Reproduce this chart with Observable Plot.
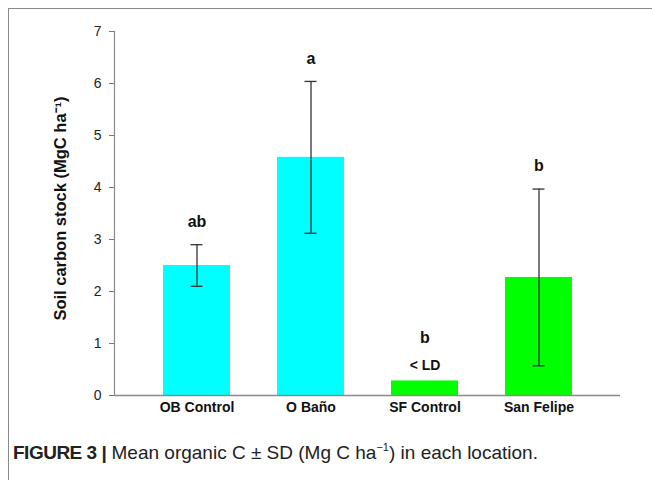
<!DOCTYPE html>
<html><head><meta charset="utf-8">
<script src="https://cdn.jsdelivr.net/npm/d3@7"></script>
<script src="https://cdn.jsdelivr.net/npm/@observablehq/plot@0.6"></script>
<style>
body{margin:0;background:#fff;font-family:"Liberation Sans",Arial,sans-serif;}
#wrap{position:relative;width:652px;height:480px;overflow:hidden;background:#fff}
#frame{position:absolute;left:8px;top:8px;right:-2px;bottom:-2px;border-top:1.5px solid #8a8a8a;border-left:1.5px solid #8a8a8a;pointer-events:none}
#chart{position:absolute;left:0;top:0}
#caption{position:absolute;left:13px;top:442px;font-family:"Liberation Sans Narrow","Liberation Sans",sans-serif;font-size:19px;color:#222;white-space:nowrap}
#caption b{letter-spacing:-0.5px}
#caption sup{font-size:11px;vertical-align:8px;line-height:0}
</style></head>
<body><div id="wrap"><div id="chart"></div><div id="frame"></div><div id="caption"><b>FIGURE 3 |</b> Mean organic C ± SD (Mg C ha<sup>−1</sup>) in each location.</div></div>
<script>
const sites = ["OB Control", "O Baño", "SF Control", "San Felipe"];
const means = [2.5, 4.58, 0.28, 2.27];
const sds = [0.4, 1.46, null, 1.7];
const letters = ["ab", "a", "b", "b"];
const notes = ["", "", "< LD", ""];
const barColors = ["#00ffff", "#00ffff", "#00ff00", "#00ff00"];
const yTicks = [0, 1, 2, 3, 4, 5, 6, 7];
const yLabel = "Soil carbon stock (MgC ha⁻¹)";

const data = sites.map((s, i) => ({
  site: s, mean: means[i], sd: sds[i],
  lo: sds[i] == null ? null : means[i] - sds[i],
  hi: sds[i] == null ? null : means[i] + sds[i],
  letter: letters[i], note: notes[i], color: barColors[i]
}));
const errs = data.filter(d => d.sd != null);
const noErr = data.filter(d => d.sd == null);

const plot = Plot.plot({
  width: 652, height: 420,
  marginLeft: 114, marginRight: 32, marginTop: 31, marginBottom: 25,
  style: {fontFamily: "'Liberation Sans', Arial, sans-serif", background: "transparent", color: "#222"},
  x: {domain: sites, padding: 0.415, label: null},
  y: {domain: [0, 7], label: null},
  marks: [
    Plot.barY(data, {x: "site", y: "mean", fill: "color"}),
    Plot.ruleY([0], {stroke: "#8a8a8a", strokeWidth: 1.5}),
    Plot.frame({anchor: "left", stroke: "#8a8a8a", strokeWidth: 1.2}),
    Plot.axisY({ticks: yTicks, tickFormat: d3.format("d"), tickSize: 5, tickPadding: 8, stroke: "#777", fontSize: 14, label: null}),
    Plot.axisX({tickSize: 0, tickPadding: 7, fontSize: 14, fontWeight: "bold", label: null, fill: "#111"}),
    Plot.text([yLabel], {frameAnchor: "left", textAnchor: "middle", rotate: -90, dx: -54, dy: -5, fontSize: 16.5, fontWeight: "bold", fill: "#111"}),
    Plot.ruleX(errs, {x: "site", y1: "lo", y2: "hi", stroke: "#333", strokeWidth: 1.3}),
    Plot.tickY(errs, {x: "site", y: "lo", insetLeft: 27.5, insetRight: 27.5, stroke: "#333", strokeWidth: 1.3}),
    Plot.tickY(errs, {x: "site", y: "hi", insetLeft: 27.5, insetRight: 27.5, stroke: "#333", strokeWidth: 1.3}),
    Plot.text(errs, {x: "site", y: "hi", text: "letter", dy: -23, fontSize: 16, fontWeight: "bold", fill: "#111"}),
    Plot.text(noErr, {x: "site", y: "mean", text: "letter", dy: -43, fontSize: 16, fontWeight: "bold", fill: "#111"}),
    Plot.text(noErr, {x: "site", y: "mean", text: "note", dy: -15, fontSize: 14, fontWeight: "bold", fill: "#111"})
  ]
});
document.getElementById("chart").appendChild(plot);
</script>
</body></html>
